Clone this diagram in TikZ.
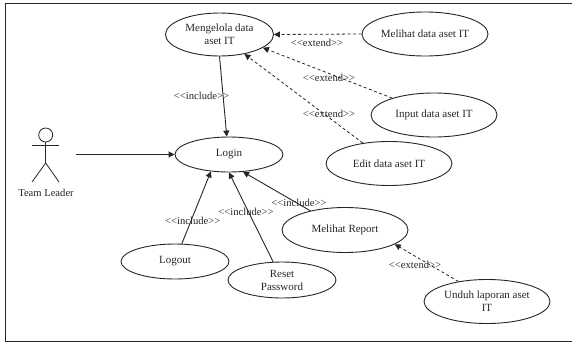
\documentclass[tikz,border=0pt]{standalone}
\usepackage{fontspec}
\setmainfont{Liberation Serif}
\usetikzlibrary{arrows.meta,shapes.geometric}
\definecolor{ink}{gray}{0.15}
\tikzset{
  x=1pt,y=-1pt,
  usecase/.style={draw=ink,line width=0.9pt,ellipse,inner sep=0pt,align=center,font=\fontsize{11}{13}\selectfont,text=ink},
  solidarrow/.style={draw=ink,line width=0.9pt,-{Triangle[length=6pt,width=6pt]}},
  dasharrow/.style={draw=ink,line width=0.8pt,dash pattern=on 3pt off 2.5pt,-{Triangle[length=6pt,width=6pt]}},
  stereo/.style={font=\fontsize{10.6}{12}\selectfont,text=ink,inner sep=0pt},
  actorline/.style={draw=ink,line width=0.8pt}
}
\newcommand{\uc}[6]{\node[usecase,minimum width=#4pt,minimum height=#5pt] (#1) at (#2,#3) {#6};}
\begin{document}
\begin{tikzpicture}
\useasboundingbox (0,0) rectangle (572,343);
\coordinate (ftr) at (572,3.5);
\coordinate (ftl) at (5.5,3.5);
\coordinate (fbl) at (5.5,341);
\coordinate (fbr) at (572,341);
\draw[draw=ink,line width=1pt] (ftr) -- (ftl) -- (fbl) -- (fbr);
\uc{mengelola}{219.5}{34.5}{108}{43}{Mengelola data\\aset IT}
\uc{login}{229}{154.5}{108}{35}{Login}
\uc{melihat}{425}{34}{126}{44}{Melihat data aset IT}
\uc{input}{434}{115}{126}{44}{Input data aset IT}
\uc{edit}{389}{163.5}{126}{44}{Edit data aset IT}
\uc{report}{345}{230}{126}{45}{Melihat Report}
\uc{reset}{282}{280}{108}{36}{Reset\\Password}
\uc{logout}{175}{261.5}{108}{35}{Logout}
\uc{unduh}{487}{301.5}{126}{44}{Unduh laporan aset\\IT}
% actor
\node[draw=ink,line width=0.8pt,circle,minimum size=14pt,inner sep=0pt] (head) at (45.7,135) {};
\coordinate (armL) at (32,145.6);
\coordinate (armR) at (59,145.6);
\coordinate (hip) at (45.7,163);
\coordinate (legL) at (32,182);
\coordinate (legR) at (59,182);
\draw[actorline] (head.south) -- (hip);
\draw[actorline] (armL) -- (armR);
\draw[actorline] (legL) -- (hip) -- (legR);
\node[font=\fontsize{10.6}{12}\selectfont,text=ink,inner sep=0pt] (actorname) at (46,193) {Team Leader};
\coordinate (actorout) at (76,154.5);
\draw[solidarrow] (actorout) -- (login.west);
% include
\draw[solidarrow] (mengelola.south) -- (login.97);
\draw[solidarrow] (logout.69) -- (login.223);
\draw[solidarrow] (reset.116.6) -- (login.south);
\draw[solidarrow] (report.151.5) -- (login.309);
% extend
\draw[dasharrow] (melihat.west) -- (mengelola.east);
\draw[dasharrow] (input.158) -- (mengelola.343.5);
\draw[dasharrow] (edit.142.8) -- (mengelola.322.3);
\draw[dasharrow] (unduh.145.6) -- (report.344.5);
% labels
\node[stereo] (l1) at (201.5,96) {<{}<include>{}>};
\node[stereo] (l2) at (192.7,221) {<{}<include>{}>};
\node[stereo] (l3) at (246,212) {<{}<include>{}>};
\node[stereo] (l4) at (299,203) {<{}<include>{}>};
\node[stereo] (l5) at (317,43) {<{}<extend>{}>};
\node[stereo] (l6) at (329,78) {<{}<extend>{}>};
\node[stereo] (l7) at (329,114) {<{}<extend>{}>};
\node[stereo] (l8) at (415,265) {<{}<extend>{}>};
\end{tikzpicture}
\end{document}
